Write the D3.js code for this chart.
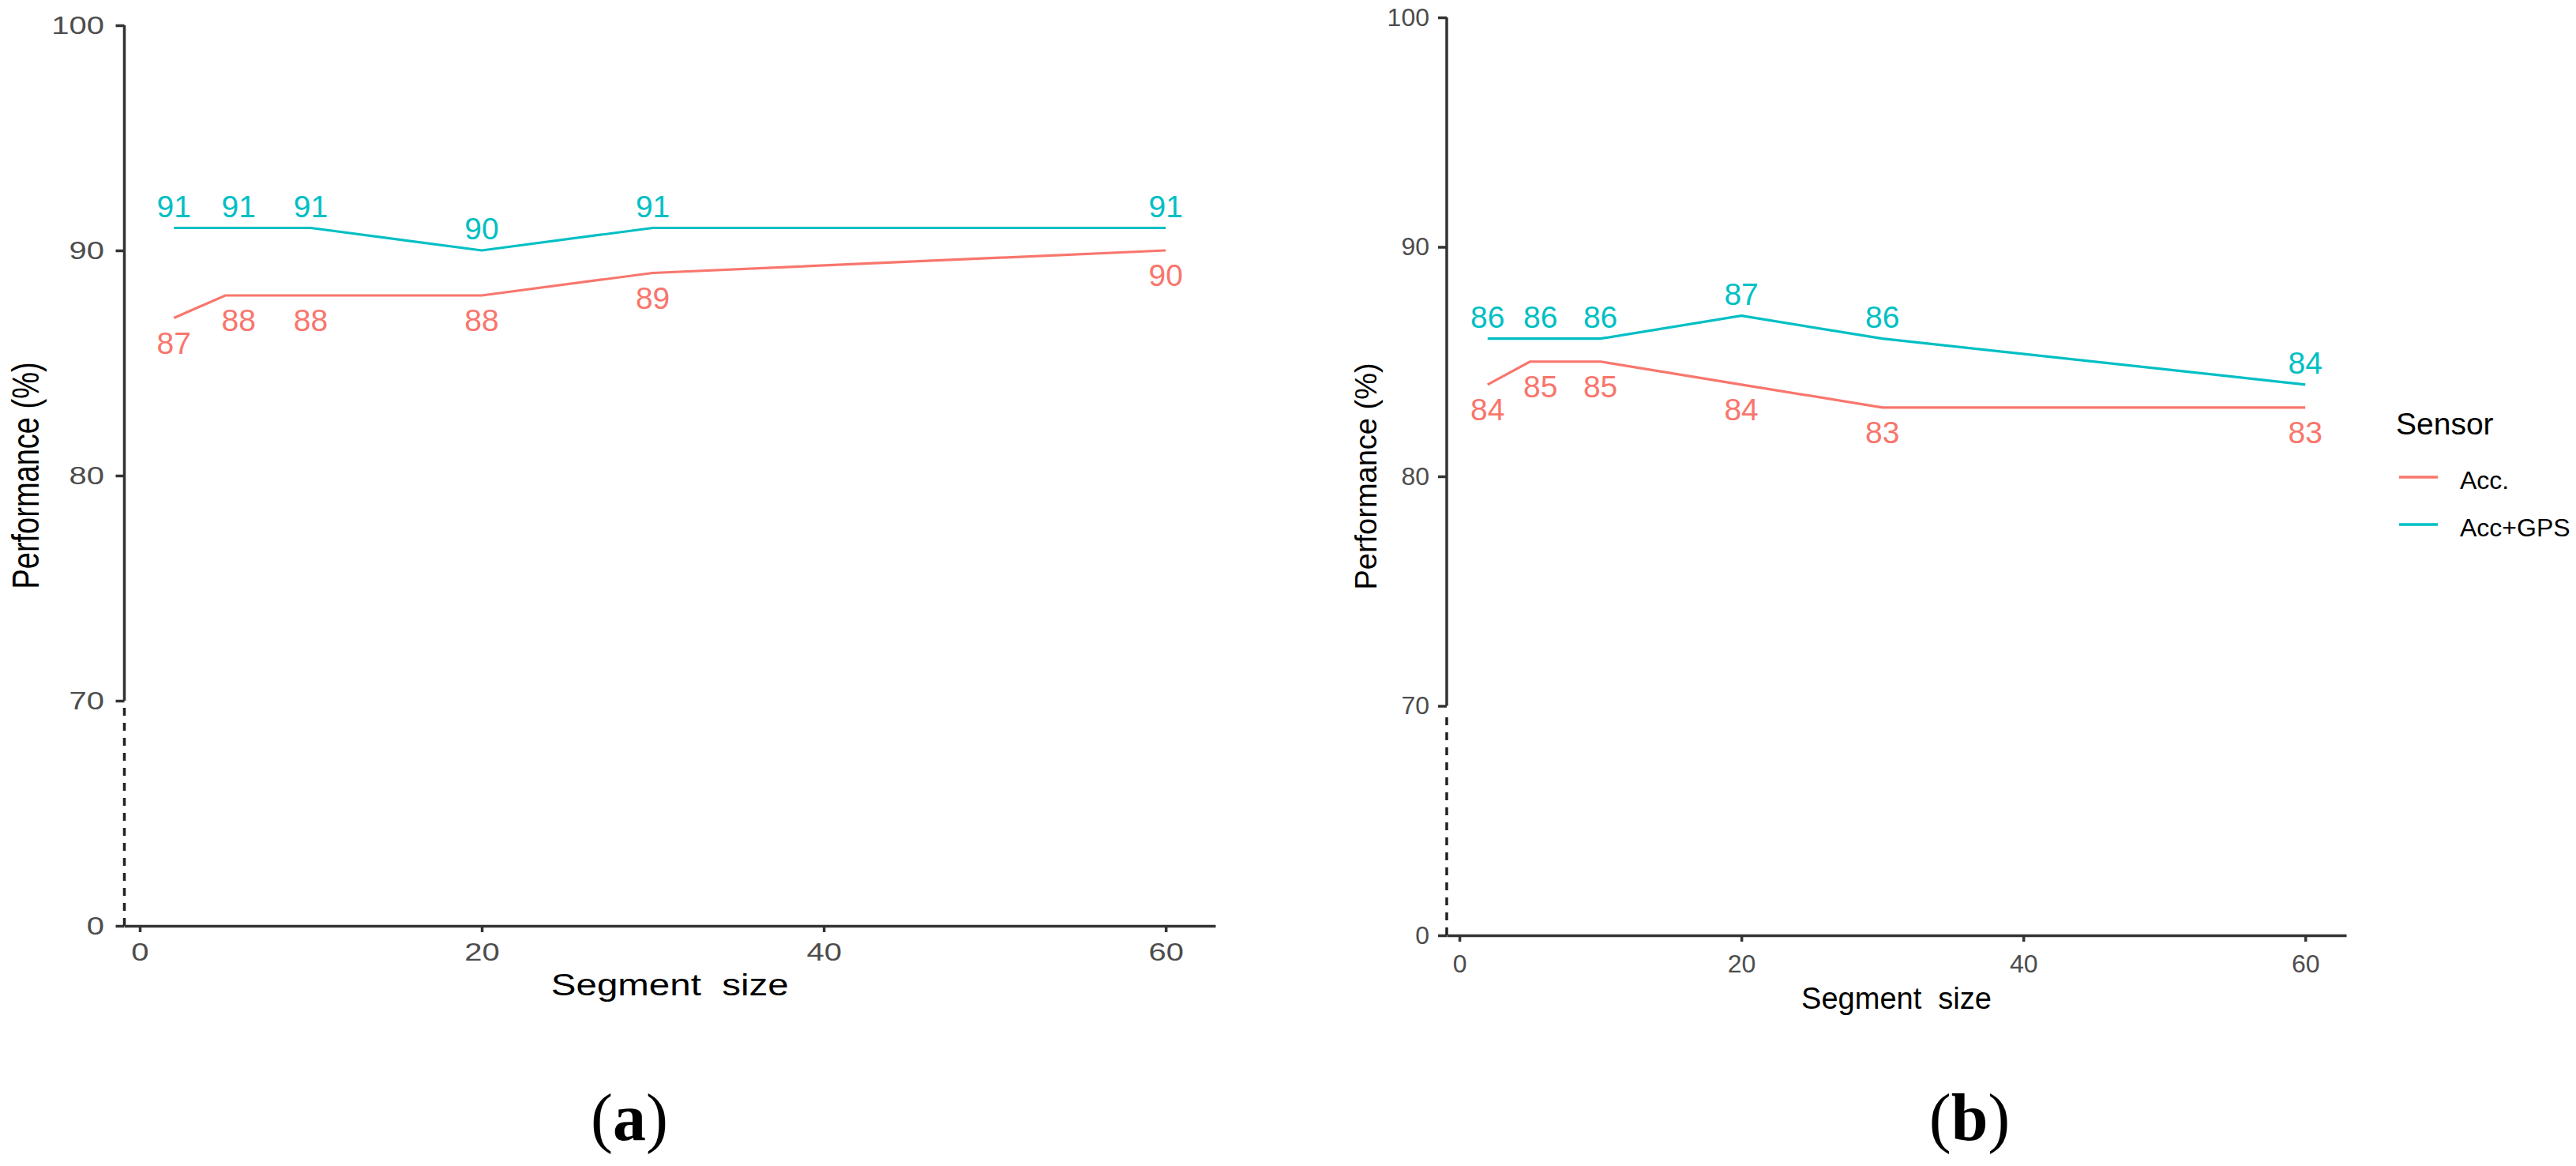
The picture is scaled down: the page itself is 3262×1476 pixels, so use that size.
<!DOCTYPE html>
<html>
<head>
<meta charset="utf-8">
<script src="https://cdn.jsdelivr.net/npm/d3@7"></script>
<style>
  body { margin: 0; background: #fff; }
  svg { display: block; font-family: "Liberation Sans", Arial, sans-serif; }
</style>
</head>
<body>
<div id="chart"></div>
<script>
// segment sizes (x) and performance values (%)
var segmentSizes = [2, 5, 10, 20, 30, 60];
var sensorNames = ["Acc.", "Acc+GPS"];
var sensorColors = ["#F8766D", "#00BFC4"];

var accA = [87, 88, 88, 88, 89, 90];
var accGpsA = [91, 91, 91, 90, 91, 91];
var accB = [84, 85, 85, 84, 83, 83];
var accGpsB = [86, 86, 86, 87, 86, 84];

var yTickValues = [0, 70, 80, 90, 100];
var xTickValues = [0, 20, 40, 60];
var panelTags = ["a", "b"];

function init() {
    var w = 3262;
    var h = 1476;

    var svg = d3.select("#chart").append("svg").attr("width", w).attr("height", h);
    svg.append("rect").attr("width", w).attr("height", h).attr("fill", "#fff");

    // left panel: its axis text is drawn wider than the right one
    drawPanel(svg, {
        left: 157.5, right: 1539, top: 32, bottom: 1172,
        stretch: 1.25, yPad: 14.5, xPad: 13, xTitleY: 1260, yTitleX: 49,
        minGap: 82, tag: panelTags[0], tagX: 797
    }, [accA, accGpsA]);

    drawPanel(svg, {
        left: 1832, right: 2971, top: 22, bottom: 1184,
        stretch: 1, yPad: 11, xPad: 16, xTitleY: 1277, yTitleX: 1743,
        minGap: 67, tag: panelTags[1], tagX: 2494
    }, [accB, accGpsB]);

    drawLegend(svg);
}

function drawPanel(svg, p, seriesValues) {
    var g = svg.append("g");

    // ggplot-like 5% expansion on x
    var ext = d3.extent(segmentSizes);
    var pad = (ext[1] - ext[0]) * 0.05;
    var xScale = d3.scaleLinear()
        .domain([ext[0] - pad, ext[1] + pad])
        .range([p.left, p.right]);

    // broken axis: 0..70 squeezed into one 10-unit step
    var step = (p.bottom - p.top) / 4;
    var yScale = d3.scaleLinear()
        .domain([0, 70, 100])
        .range([p.bottom, p.bottom - step, p.top]);

    // y axis
    var yAxis = d3.axisLeft(yScale).tickValues(yTickValues).tickSize(11).tickSizeOuter(0).tickPadding(p.yPad);
    var yg = g.append("g")
        .attr("transform", "translate(" + p.left + ",0)")
        .call(yAxis);
    yg.select(".domain").remove();
    yg.selectAll(".tick line").attr("stroke", "#333").attr("stroke-width", 3.5);
    yg.selectAll(".tick text")
        .attr("font-size", 32)
        .attr("font-family", "Liberation Sans, Arial, sans-serif")
        .attr("fill", "#4D4D4D")
        .attr("x", -(11 + p.yPad) / p.stretch)
        .attr("transform", "scale(" + p.stretch + ",1)");

    g.append("line")
        .attr("x1", p.left).attr("x2", p.left)
        .attr("y1", yScale(70)).attr("y2", yScale(100))
        .attr("stroke", "#333").attr("stroke-width", 3.5);
    g.append("line")
        .attr("x1", p.left).attr("x2", p.left)
        .attr("y1", yScale(0)).attr("y2", yScale(70) + 8)
        .attr("stroke", "#222").attr("stroke-width", 3.5)
        .attr("stroke-dasharray", "10,9");

    // x axis
    var xAxis = d3.axisBottom(xScale).tickValues(xTickValues).tickSize(8).tickSizeOuter(0).tickPadding(p.xPad);
    var xg = g.append("g")
        .attr("transform", "translate(0," + p.bottom + ")")
        .call(xAxis);
    xg.select(".domain").attr("stroke", "#333").attr("stroke-width", 3.5);
    xg.selectAll(".tick line").attr("stroke", "#333").attr("stroke-width", 3.5);
    xg.selectAll(".tick text")
        .attr("font-size", 32)
        .attr("font-family", "Liberation Sans, Arial, sans-serif")
        .attr("fill", "#4D4D4D")
        .attr("transform", "scale(" + p.stretch + ",1)");

    // axis titles
    var midX = (p.left + p.right) / 2;
    g.append("text")
        .attr("transform", "translate(" + midX + "," + p.xTitleY + ") scale(" + p.stretch + ",1)")
        .attr("text-anchor", "middle")
        .attr("font-size", 38)
        .attr("fill", "#000")
        .attr("xml:space", "preserve")
        .style("white-space", "pre")
        .text("Segment  size");

    var midY = (p.top + p.bottom) / 2;
    g.append("text")
        .attr("transform", "translate(" + p.yTitleX + "," + midY + ") scale(" + p.stretch + ",1) rotate(-90)")
        .attr("text-anchor", "middle")
        .attr("font-size", 38)
        .attr("fill", "#000")
        .text("Performance (%)");

    // lines
    var line = d3.line()
        .x(function(d) { return xScale(d.x); })
        .y(function(d) { return yScale(d.y); });

    seriesValues.forEach(function(vals, si) {
        var pts = segmentSizes.map(function(x, i) { return { x: x, y: vals[i] }; });
        g.append("path")
            .datum(pts)
            .attr("fill", "none")
            .attr("stroke", sensorColors[si])
            .attr("stroke-width", 3.2)
            .attr("d", line);

        // labels: Acc. below the line, Acc+GPS above; nudge right if crowded
        var lastX = -Infinity;
        pts.forEach(function(d) {
            var lx = xScale(d.x);
            if (lx - lastX < p.minGap) lx = lastX + p.minGap;
            lastX = lx;
            g.append("text")
                .attr("x", lx)
                .attr("y", si === 0 ? yScale(d.y) + 45 : yScale(d.y) - 14)
                .attr("text-anchor", "middle")
                .attr("font-size", 39)
                .attr("fill", sensorColors[si])
                .text(d3.format("d")(d.y));
        });
    });

    // panel tag (a) / (b)
    var tag = g.append("text")
        .attr("x", p.tagX)
        .attr("y", 1443)
        .attr("text-anchor", "middle")
        .attr("font-family", "Liberation Serif, Times New Roman, serif")
        .attr("font-size", 84)
        .attr("fill", "#000");
    tag.append("tspan").text("(");
    tag.append("tspan").attr("font-weight", "bold").text(p.tag);
    tag.append("tspan").text(")");
}

function drawLegend(svg) {
    var lg = svg.append("g");
    lg.append("text")
        .attr("x", 3034).attr("y", 550)
        .attr("font-size", 39)
        .attr("fill", "#000")
        .text("Sensor");

    var keyY = d3.scalePoint().domain(sensorNames).range([604, 664]);
    sensorNames.forEach(function(name, i) {
        lg.append("line")
            .attr("x1", 3038).attr("x2", 3087)
            .attr("y1", keyY(name)).attr("y2", keyY(name))
            .attr("stroke", sensorColors[i])
            .attr("stroke-width", 3.5);
        lg.append("text")
            .attr("x", 3115).attr("y", keyY(name) + 15)
            .attr("font-size", 32)
            .attr("fill", "#000")
            .text(name);
    });
}

window.onload = init;
</script>
</body>
</html>
